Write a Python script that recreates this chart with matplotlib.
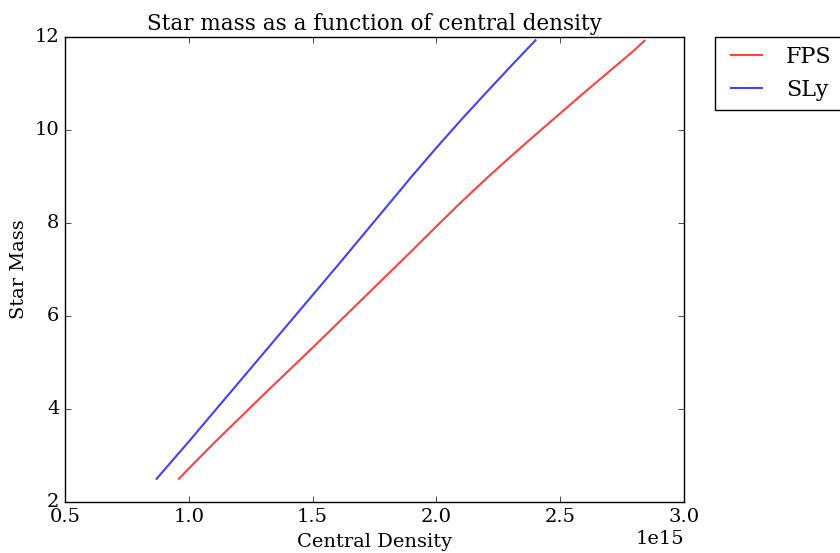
import numpy as np
import matplotlib
matplotlib.use("Agg")
import matplotlib.pyplot as plt

# central density (units of 1e15) and star mass
fps_rho = [0.96, 1.0, 1.1, 1.2, 1.3, 1.4, 1.5, 1.6, 1.7, 1.8, 1.9, 2.0, 2.1,
           2.2, 2.3, 2.4, 2.5, 2.6, 2.7, 2.8, 2.84]
fps_mass = [2.5, 2.72, 3.26, 3.78, 4.3, 4.81, 5.32, 5.84, 6.36, 6.88, 7.4, 7.93, 8.45,
            8.95, 9.43, 9.9, 10.36, 10.82, 11.27, 11.72, 11.92]

sly_rho = [0.87, 1.0, 1.1, 1.2, 1.3, 1.4, 1.5, 1.6, 1.7, 1.8, 1.9, 2.0, 2.1,
           2.2, 2.3, 2.4]
sly_mass = [2.5, 3.3, 3.93, 4.56, 5.19, 5.82, 6.45, 7.08, 7.72, 8.36, 9.0, 9.62, 10.22,
            10.8, 11.37, 11.93]

plt.style.use("classic")
plt.rcParams["font.family"] = "serif"
plt.rcParams["font.serif"] = ["DejaVu Serif"]
plt.rcParams["font.size"] = 14

fig = plt.figure(figsize=(8.4, 5.53), dpi=100, facecolor="white")
ax = fig.add_axes([0.0774, 0.0922, 0.7369, 0.8408])

ax.plot(np.array(fps_rho) * 1e15, fps_mass, "r", alpha=0.75, lw=1.5, label="FPS")
ax.plot(np.array(sly_rho) * 1e15, sly_mass, "b", alpha=0.75, lw=1.5, label="SLy")

ax.set_xlim(0.5e15, 3.0e15)
ax.set_ylim(2, 12)
ax.set_title("Star mass as a function of central density", fontsize=15.5)
ax.set_xlabel("Central Density")
ax.set_ylabel("Star Mass")
ax.legend(bbox_to_anchor=(1.05, 1), loc=2, borderaxespad=0., fontsize=16)

plt.savefig("out.png", dpi=100, facecolor="white")
